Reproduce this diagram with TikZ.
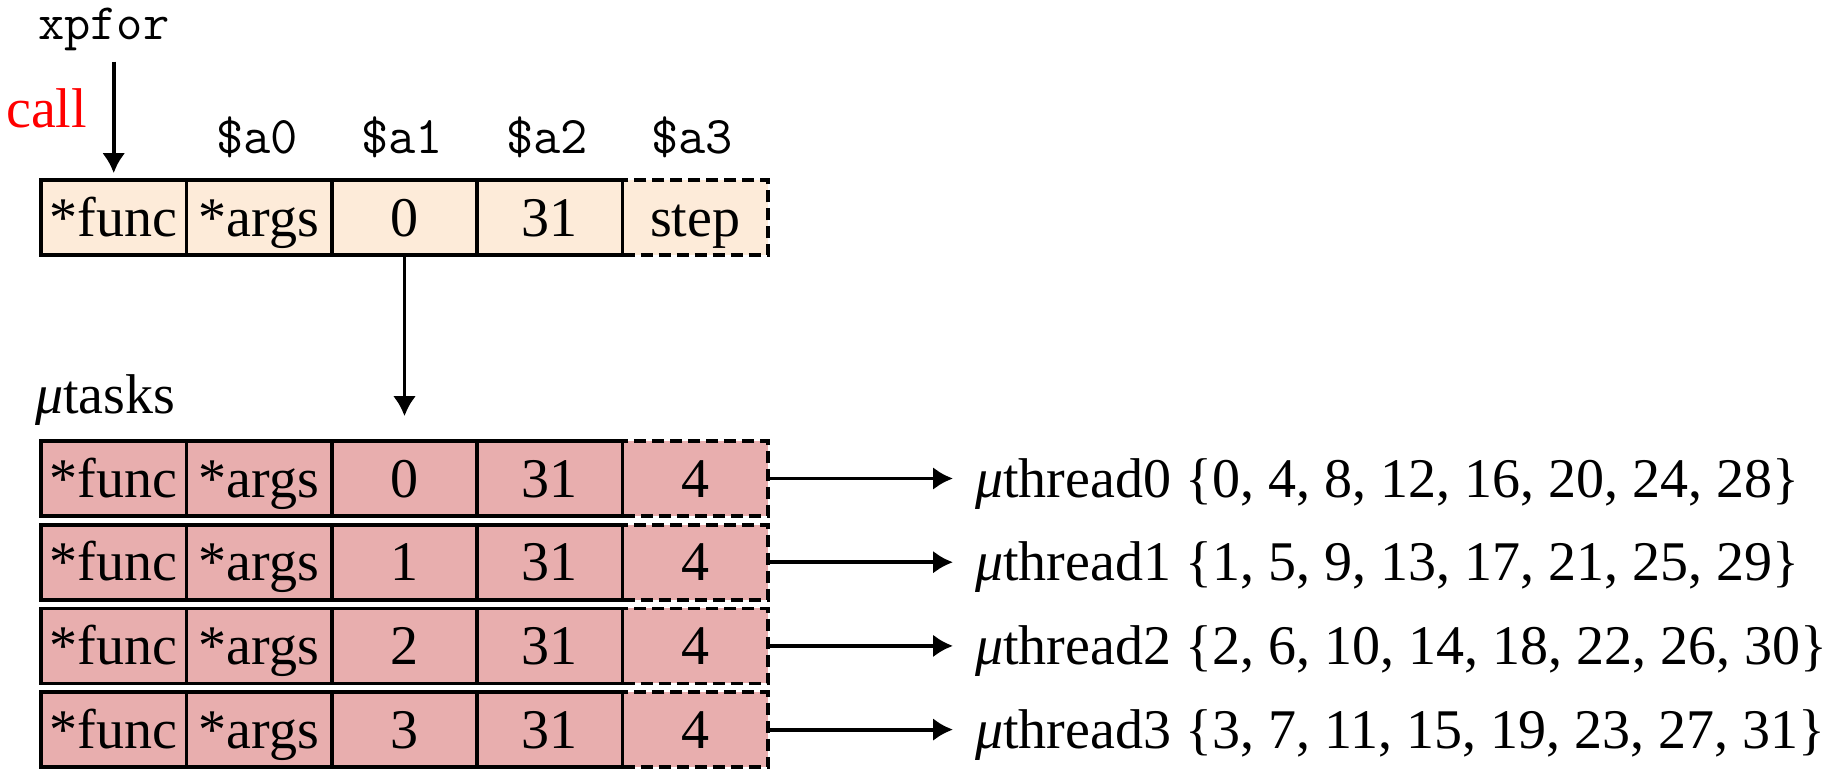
\documentclass[tikz,border=0pt]{standalone}
\usepackage{fontspec}
\setmainfont{Liberation Serif}
\usetikzlibrary{arrows.meta}
\definecolor{argfill}{RGB}{253,235,217}
\definecolor{taskfill}{RGB}{232,174,174}
\tikzset{
  cell/.style={draw,line width=3.6pt,minimum width=145.4pt,minimum height=75pt,inner sep=0pt,text height=50pt,text depth=13pt},
  dashcell/.style={cell,dash pattern=on 12pt off 6pt},
  reg/.style={font=\fontsize{53}{56}\selectfont\ttfamily,anchor=base,inner sep=0pt},
  thread/.style={anchor=west,inner sep=0pt,text height=50pt,text depth=13pt},
  link/.style={line width=3.8pt,-{Latex[length=20pt,width=23pt]}},
}

\begin{document}
\begin{tikzpicture}[x=1pt,y=-1pt,font=\fontsize{56}{60}\selectfont]
  \useasboundingbox (0,0) rectangle (1846,776);
  % call into xpfor
  \node [anchor=base west,inner sep=0pt,font=\fontsize{51}{54}\selectfont\ttfamily] (xpfor) at (38,40) {xpfor};
  \node [anchor=base west,inner sep=0pt,text=red] (call) at (6,127) {call};
  % argument registers
  \node [dashcell,fill=argfill] (a4) at (695.3,217.5) {step};
  \node [cell,fill=argfill] (a0) at (113.7,217.5) {*func};
  \node [cell,fill=argfill] (a1) at (259.1,217.5) {*args};
  \node [cell,fill=argfill] (a2) at (404.5,217.5) {0};
  \node [cell,fill=argfill] (a3) at (549.9,217.5) {31};
  \node [reg] (r0) at (257,153) {\$a0};
  \node [reg] (r1) at (402,153) {\$a1};
  \node [reg] (r2) at (547,153) {\$a2};
  \node [reg] (r3) at (692,153) {\$a3};
  \draw [link,shorten <=10pt,shorten >=5pt] (a0.north |- xpfor.south) -- (a0.north);
  % micro tasks
  \node [anchor=base west,inner sep=0pt] (tasks) at (35,413) {{\itshape μ}tasks};
  \foreach \row/\y/\members in {0/478.5/{0, 4, 8, 12, 16, 20, 24, 28},1/562.2/{1, 5, 9, 13, 17, 21, 25, 29},2/645.9/{2, 6, 10, 14, 18, 22, 26, 30},3/729.6/{3, 7, 11, 15, 19, 23, 27, 31}} {
    \node [dashcell,fill=taskfill] (m\row-4) at (695.3,\y) {4};
    \node [cell,fill=taskfill] (m\row-0) at (113.7,\y) {*func};
    \node [cell,fill=taskfill] (m\row-1) at (259.1,\y) {*args};
    \node [cell,fill=taskfill] (m\row-2) at (404.5,\y) {\row};
    \node [cell,fill=taskfill] (m\row-3) at (549.9,\y) {31};
    \node [thread] (u\row) at (975,\y) {{\itshape μ}thread\row\ \{\members\}};
    \draw [link,shorten >=22pt] (m\row-4.east) -- (u\row.west);
  }
  \draw [link,shorten >=23pt] (a2.south) -- (m0-2.north);
\end{tikzpicture}
\end{document}
